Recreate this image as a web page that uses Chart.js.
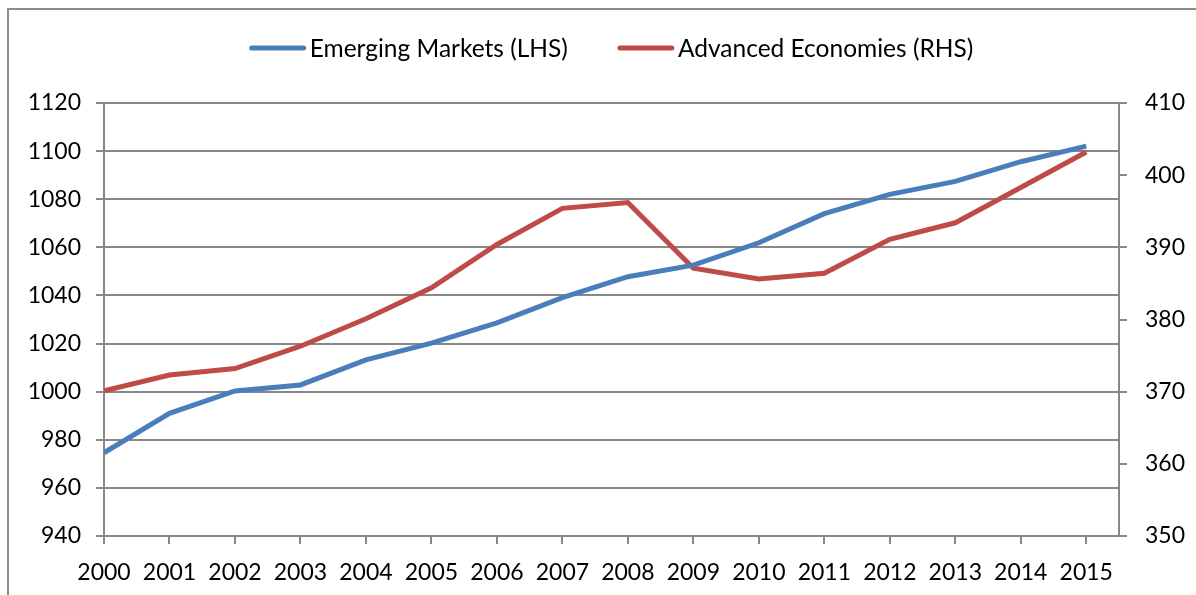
<!DOCTYPE html>
<html>
<head>
<meta charset="utf-8">
<script src="https://cdn.jsdelivr.net/npm/chart.js@4.4.1/dist/chart.umd.min.js"></script>
<style>
    html, body { margin: 0; padding: 0; background: #fff; overflow: hidden; }
    #wrap { position: relative; width: 1196px; height: 595px; }
    #frame { position: absolute; left: 7px; top: 8px; width: 1200px; height: 600px; border: 2px solid #8c8c8c; box-sizing: border-box; }
    canvas { position: absolute; left: 0; top: 0; }
</style>
</head>
<body>
<div id="wrap">
    <div id="frame"></div>
    <canvas id="chart" width="1196" height="595"></canvas>
</div>
<script>
// Data
const years = [2000, 2001, 2002, 2003, 2004, 2005, 2006, 2007, 2008, 2009, 2010, 2011, 2012, 2013, 2014, 2015];
const emergingMarkets = [974.6, 991.0, 1000.3, 1002.8, 1013.2, 1020.2, 1028.6, 1039.1, 1047.8, 1052.6, 1061.9, 1074.0, 1082.0, 1087.4, 1095.6, 1102.1];
const advancedEconomies = [370.1, 372.3, 373.2, 376.3, 380.1, 384.4, 390.4, 395.4, 396.2, 387.1, 385.6, 386.4, 391.1, 393.4, 398.3, 403.2];
const leftTicks = [940, 960, 980, 1000, 1020, 1040, 1060, 1080, 1100, 1120];
const rightTicks = [350, 360, 370, 380, 390, 400, 410];

const FONT = "Lato, 'Open Sans', sans-serif";
const GRID = "#888888";

function toPoints(values) {
    return years.map((yr, i) => ({ x: yr, y: values[i] }));
}

// Excel-style legend: short thick line, text right next to it
const lineLegend = {
    id: "lineLegend",
    afterDraw(chart) {
        const c = chart.ctx;
        const area = chart.chartArea;
        const sets = chart.data.datasets;
        const boxW = 56, gap = 4, spacing = 50, y = 48;
        c.save();
        c.font = "24.5px " + FONT;
        c.textBaseline = "middle";
        c.textAlign = "left";
        const widths = sets.map(ds => c.measureText(ds.label).width);
        let total = widths.reduce((a, w) => a + boxW + gap + w, 0) + spacing * (sets.length - 1);
        let x = (area.left + area.right) / 2 - total / 2;
        sets.forEach((ds, i) => {
            c.strokeStyle = ds.borderColor;
            c.lineWidth = 5;
            c.lineCap = "round";
            c.beginPath();
            c.moveTo(x + 2, y);
            c.lineTo(x + boxW - 2, y);
            c.stroke();
            c.fillStyle = "#000";
            c.fillText(ds.label, x + boxW + gap, y + 1);
            x += boxW + gap + widths[i] + spacing;
        });
        c.restore();
    },
};

document.addEventListener("DOMContentLoaded", function () {
    const ctx = document.getElementById("chart").getContext("2d");

    new Chart(ctx, {
        type: "line",
        data: {
            datasets: [
                {
                    label: "Emerging Markets (LHS)",
                    data: toPoints(emergingMarkets),
                    borderColor: "#4a7ebb",
                    backgroundColor: "#4a7ebb",
                    borderWidth: 5,
                    pointRadius: 0,
                    tension: 0,
                    yAxisID: "y",
                },
                {
                    label: "Advanced Economies (RHS)",
                    data: toPoints(advancedEconomies),
                    borderColor: "#be4b48",
                    backgroundColor: "#be4b48",
                    borderWidth: 5,
                    pointRadius: 0,
                    tension: 0,
                    yAxisID: "y1",
                },
            ],
        },
        options: {
            responsive: false,
            animation: false,
            layout: {
                padding: { top: 103, left: 0, right: 0, bottom: 0 },
            },
            plugins: {
                tooltip: { enabled: false },
                legend: { display: false },
            },
            scales: {
                x: {
                    type: "linear",
                    min: years[0],
                    max: years[years.length - 1] + 0.5,
                    afterFit(scale) { scale.height = 59; },
                    grid: {
                        drawOnChartArea: false,
                        color: GRID,
                        lineWidth: 2,
                        tickLength: 8,
                    },
                    border: { color: GRID, width: 2 },
                    ticks: {
                        stepSize: 1,
                        includeBounds: false,
                        maxRotation: 0,
                        autoSkip: false,
                        padding: 15,
                        color: "#000",
                        font: { family: FONT, size: 23 },
                        callback: v => String(v),
                    },
                },
                y: {
                    position: "left",
                    min: leftTicks[0],
                    max: leftTicks[leftTicks.length - 1],
                    afterFit(scale) { scale.width = 104; },
                    afterBuildTicks(scale) { scale.ticks = leftTicks.map(v => ({ value: v })); },
                    grid: {
                        color: GRID,
                        lineWidth: 2,
                        tickLength: 8,
                    },
                    border: { color: GRID, width: 2 },
                    ticks: {
                        padding: 15,
                        color: "#000",
                        font: { family: FONT, size: 23 },
                        callback: v => String(v),
                    },
                },
                y1: {
                    position: "right",
                    min: rightTicks[0],
                    max: rightTicks[rightTicks.length - 1],
                    afterFit(scale) { scale.width = 77; },
                    afterBuildTicks(scale) { scale.ticks = rightTicks.map(v => ({ value: v })); },
                    grid: {
                        drawOnChartArea: false,
                        color: GRID,
                        lineWidth: 2,
                        tickLength: 8,
                    },
                    border: { color: GRID, width: 2 },
                    ticks: {
                        padding: 18,
                        color: "#000",
                        font: { family: FONT, size: 23 },
                        callback: v => String(v),
                    },
                },
            },
        },
        plugins: [lineLegend],
    });
});
</script>
</body>
</html>
